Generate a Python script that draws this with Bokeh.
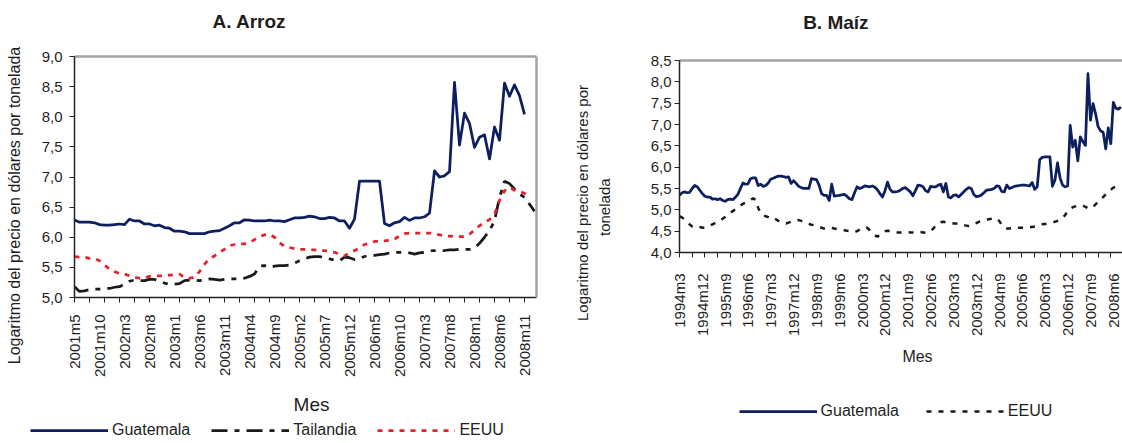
import math
import numpy as np
from bokeh.plotting import figure
from bokeh.models import (Range1d, FixedTicker, LinearAxis, Legend, LegendItem, Label,
                          CustomJSTickFormatter)
from bokeh.layouts import row, column
from bokeh.embed import file_html
from bokeh.resources import INLINE

FONT = "Liberation Sans"
TXT = "#1e1e1e"
NAVY = "#0d1f5e"
RED = "#e8202a"
BLACK = "#1a1a1a"
BORDER = "#a3a3a3"
AXIS = "#222222"

# ---------------- Panel A: Arroz ----------------
title_a = "A.  Arroz"
ytitle_a = "Logaritmo del precio en dólares por tonelada"
xtitle_a = "Mes"
series_a = ["Guatemala", "Tailandia", "EEUU"]
tick_labels_a = ["2001m5", "2001m10", "2002m3", "2002m8", "2003m1", "2003m6", "2003m11",
                 "2004m4", "2004m9", "2005m2", "2005m7", "2005m12", "2006m5", "2006m10",
                 "2007m3", "2007m8", "2008m1", "2008m6", "2008m11"]
yticks_a = [5.0, 5.5, 6.0, 6.5, 7.0, 7.5, 8.0, 8.5, 9.0]

guatemala_a = [6.285, 6.25, 6.25, 6.25, 6.24, 6.21, 6.20, 6.20, 6.21, 6.22,
               6.21, 6.30, 6.27, 6.27, 6.22, 6.22, 6.19, 6.20, 6.16, 6.15,
               6.10, 6.10, 6.09, 6.06, 6.06, 6.06, 6.06, 6.09, 6.10, 6.11,
               6.15, 6.19, 6.24, 6.24, 6.29, 6.285, 6.27, 6.27, 6.27, 6.285,
               6.27, 6.27, 6.26, 6.29, 6.32, 6.32, 6.33, 6.35, 6.34, 6.31,
               6.31, 6.33, 6.32, 6.27, 6.27, 6.15, 6.30, 6.93, 6.93, 6.93,
               6.93, 6.93, 6.23, 6.19, 6.24, 6.26, 6.33, 6.28, 6.32, 6.32,
               6.34, 6.40, 7.10, 7.00, 7.02, 7.09, 8.57, 7.53, 8.06, 7.89,
               7.49, 7.66, 7.70, 7.30, 7.83, 7.61, 8.56, 8.34, 8.53, 8.35, 8.04]

tailandia_a = [5.18, 5.10, 5.11, 5.13, 5.14, 5.14, 5.15, 5.15, 5.17, 5.18,
               5.22, 5.27, 5.29, 5.28, 5.28, 5.30, 5.30, 5.27, 5.24, 5.22,
               5.22, 5.23, 5.28, 5.29, 5.29, 5.28, 5.29, 5.31, 5.30, 5.29,
               5.30, 5.31, 5.31, 5.31, 5.32, 5.35, 5.39, 5.52, 5.53, 5.50,
               5.52, 5.53, 5.53, 5.54, 5.57, 5.61, 5.64, 5.67, 5.68, 5.68,
               5.66, 5.64, 5.62, 5.61, 5.67, 5.66, 5.63, 5.65, 5.68, 5.70,
               5.70, 5.71, 5.72, 5.74, 5.75, 5.75, 5.75, 5.74, 5.72, 5.74,
               5.75, 5.77, 5.78, 5.78, 5.78, 5.79, 5.79, 5.80, 5.80, 5.80,
               5.82, 5.90, 6.00, 6.11, 6.27, 6.66, 6.93, 6.89, 6.80, 6.72,
               6.66, 6.55, 6.43]

eeuu_a = [5.68, 5.67, 5.67, 5.65, 5.65, 5.61, 5.54, 5.47, 5.43, 5.40,
          5.39, 5.36, 5.33, 5.32, 5.33, 5.35, 5.36, 5.36, 5.36, 5.37,
          5.38, 5.39, 5.33, 5.32, 5.33, 5.43, 5.55, 5.65, 5.69, 5.75,
          5.80, 5.86, 5.88, 5.89, 5.89, 5.91, 5.96, 6.01, 6.04, 6.05,
          6.00, 5.91, 5.85, 5.83, 5.81, 5.80, 5.80, 5.79, 5.79, 5.78,
          5.78, 5.76, 5.75, 5.72, 5.69, 5.74, 5.78, 5.82, 5.88, 5.90,
          5.93, 5.93, 5.94, 5.95, 5.97, 6.02, 6.06, 6.07, 6.07, 6.07,
          6.07, 6.07, 6.06, 6.04, 6.02, 6.02, 6.01, 6.01, 6.01, 6.05,
          6.12, 6.19, 6.25, 6.29, 6.38, 6.61, 6.77, 6.83, 6.78, 6.76,
          6.73, 6.67]

# ---------------- Panel B: Maiz ----------------
title_b = "B.  Maíz"
ytitle_b1 = "Logaritmo del precio en dólares por"
ytitle_b2 = "tonelada"
xtitle_b = "Mes"
series_b = ["Guatemala", "EEUU"]
tick_labels_b = ["1994m3", "1994m12", "1995m9", "1996m6", "1997m3", "1997m12", "1998m9",
                 "1999m6", "2000m3", "2000m12", "2001m9", "2002m6", "2003m3", "2003m12",
                 "2004m9", "2005m6", "2006m3", "2006m12", "2007m9", "2008m6"]
yticks_b = [4.0, 4.5, 5.0, 5.5, 6.0, 6.5, 7.0, 7.5, 8.0, 8.5]

guatemala_b = [5.34, 5.40, 5.42, 5.40, 5.41, 5.50, 5.57, 5.54, 5.46, 5.38,
               5.32, 5.30, 5.30, 5.25, 5.26, 5.24, 5.26, 5.22, 5.20, 5.24,
               5.25, 5.24, 5.29, 5.36, 5.50, 5.63, 5.60, 5.61, 5.73, 5.75,
               5.75, 5.57, 5.60, 5.55, 5.57, 5.63, 5.72, 5.74, 5.77, 5.79,
               5.79, 5.78, 5.76, 5.77, 5.62, 5.68, 5.62, 5.55, 5.52, 5.50,
               5.51, 5.50, 5.73, 5.72, 5.71, 5.58, 5.38, 5.34, 5.34, 5.22,
               5.60, 5.32, 5.33, 5.34, 5.35, 5.36, 5.32, 5.26, 5.24, 5.40,
               5.54, 5.50, 5.52, 5.56, 5.55, 5.54, 5.56, 5.53, 5.47, 5.38,
               5.30, 5.45, 5.65, 5.48, 5.42, 5.42, 5.43, 5.46, 5.50, 5.52,
               5.47, 5.42, 5.33, 5.45, 5.58, 5.57, 5.54, 5.45, 5.42, 5.55,
               5.54, 5.54, 5.58, 5.60, 5.42, 5.62, 5.30, 5.28, 5.34, 5.35,
               5.30, 5.36, 5.42, 5.48, 5.52, 5.50, 5.36, 5.31, 5.32, 5.35,
               5.40, 5.46, 5.47, 5.48, 5.50, 5.56, 5.55, 5.43, 5.42, 5.58,
               5.50, 5.52, 5.55, 5.56, 5.57, 5.58, 5.58, 5.57, 5.56, 5.64,
               5.48, 5.54, 6.18, 6.23, 6.24, 6.24, 6.24, 5.55, 5.70, 6.10,
               5.75, 5.58, 5.54, 5.56, 6.98, 6.47, 6.63, 6.15, 6.71, 6.60,
               6.51, 8.19, 7.10, 7.49, 7.25, 6.95, 6.85, 6.82, 6.43, 6.92,
               6.55, 7.52, 7.38, 7.36, 7.41]

eeuu_b = [4.85, 4.82, 4.78, 4.72, 4.66, 4.61, 4.60, 4.62, 4.60, 4.58,
          4.58, 4.60, 4.63, 4.66, 4.69, 4.72, 4.75, 4.79, 4.83, 4.88,
          4.93, 4.97, 5.01, 5.05, 5.10, 5.14, 5.17, 5.20, 5.23, 5.27,
          5.24, 5.05, 4.92, 4.87, 4.85, 4.83, 4.80, 4.82, 4.78, 4.74,
          4.71, 4.69, 4.68, 4.70, 4.72, 4.74, 4.75, 4.76, 4.74, 4.71,
          4.69, 4.67, 4.65, 4.64, 4.62, 4.60, 4.58, 4.56, 4.57, 4.58,
          4.58, 4.56, 4.55, 4.54, 4.53, 4.52, 4.51, 4.50, 4.48, 4.48,
          4.50, 4.54, 4.58, 4.59, 4.58, 4.52, 4.45, 4.40, 4.37, 4.42,
          4.47, 4.50, 4.51, 4.50, 4.49, 4.48, 4.47, 4.47, 4.47, 4.48,
          4.48, 4.47, 4.47, 4.47, 4.48, 4.48, 4.47, 4.46, 4.48, 4.50,
          4.56, 4.63, 4.68, 4.71, 4.72, 4.71, 4.70, 4.69, 4.68, 4.68,
          4.67, 4.66, 4.64, 4.63, 4.62, 4.63, 4.66, 4.69, 4.72, 4.74,
          4.76, 4.77, 4.78, 4.79, 4.80, 4.80, 4.74, 4.65, 4.58, 4.56,
          4.56, 4.57, 4.58, 4.58, 4.58, 4.58, 4.59, 4.59, 4.60, 4.60,
          4.61, 4.62, 4.64, 4.66, 4.67, 4.68, 4.70, 4.71, 4.72, 4.74,
          4.76, 4.80, 4.88, 4.97, 5.03, 5.06, 5.08, 5.10, 5.11, 5.10,
          5.07, 5.04, 5.03, 5.07, 5.13, 5.19, 5.25, 5.30, 5.36, 5.42,
          5.47, 5.52, 5.54, 5.57, 5.61]

STYLE = {
    "Guatemala": dict(line_color=NAVY, line_width=2.75, line_join="round"),
    "Tailandia": dict(line_color=BLACK, line_width=2.75, line_dash="16 7 5 7"),
    "EEUU_A": dict(line_color=RED, line_width=2.75, line_dash="5 6"),
    "EEUU_B": dict(line_color=BLACK, line_width=2.5, line_dash="5 7"),
}


def months_from(y, m, n):
    return [f"{y + (m - 1 + k) // 12}m{(m - 1 + k) % 12 + 1}" for k in range(n)]


months_a = months_from(2001, 5, 93)
months_b = months_from(1994, 3, 175)


def no_align(f):
    if "frame_align" in f.properties():
        f.frame_align = False
    return f


def make_fig(frame_w, frame_h, xr, yr, mb):
    p = figure(frame_width=frame_w, frame_height=frame_h, x_range=Range1d(*xr), y_range=Range1d(*yr),
               min_border_left=mb[0], min_border_right=mb[1], min_border_top=mb[2], min_border_bottom=mb[3],
               output_backend="svg", toolbar_location=None, title=None,
               background_fill_color="white", border_fill_color="white")
    p.outline_line_color = None
    p.xgrid.visible = False
    p.ygrid.visible = False
    return no_align(p)


def blank_fig(w, h):
    """Axis-less strip whose data coordinates equal its pixel coordinates (y downwards)."""
    f = figure(width=w, height=h, x_range=Range1d(0, w), y_range=Range1d(h, 0),
               min_border_left=0, min_border_right=0, min_border_top=0, min_border_bottom=0,
               x_axis_type=None, y_axis_type=None, output_backend="svg", toolbar_location=None,
               title=None, background_fill_color="white", border_fill_color="white")
    f.outline_line_color = None
    return no_align(f)


def put_text(f, x, y, text, size, bold=False):
    f.add_layout(Label(x=x, y=y, text=text, text_align="center", text_baseline="alphabetic",
                       text_font=FONT, text_font_size=size,
                       text_font_style="bold" if bold else "normal", text_color=TXT))


def text_axis(pos, text, size, standoff, vertical=False, line_color=None, line_width=1.0):
    ax = LinearAxis(ticker=FixedTicker(ticks=[pos] if pos is not None else []),
                    formatter=CustomJSTickFormatter(args=dict(t=text), code="return t;"),
                    major_tick_line_color=None, minor_tick_line_color=None,
                    major_tick_out=0, major_tick_in=0, minor_tick_out=0, minor_tick_in=0,
                    major_label_standoff=standoff, major_label_text_font=FONT,
                    major_label_text_font_size=size, major_label_text_color=TXT,
                    axis_line_color=line_color, axis_line_width=line_width)
    if vertical:
        ax.major_label_orientation = "vertical"
    return ax


def style_axes(p, months, tick_labels, minor_step, yticks, xstand, ystand):
    xt = [months.index(t) for t in tick_labels]
    xa = p.xaxis[0]
    xa.ticker = FixedTicker(ticks=xt, minor_ticks=list(range(0, len(months), minor_step)))
    xa.major_label_overrides = {i: t for i, t in zip(xt, tick_labels)}
    xa.major_label_orientation = math.pi / 2
    xa.major_tick_line_color = None
    xa.major_tick_out = 0
    xa.major_tick_in = 0
    xa.minor_tick_out = 5
    xa.minor_tick_in = 0
    xa.minor_tick_line_color = AXIS
    xa.axis_line_color = AXIS
    xa.axis_line_width = 1.5
    xa.major_label_standoff = xstand
    xa.major_label_text_font = FONT
    xa.major_label_text_font_size = "15px"
    xa.major_label_text_color = TXT

    ya = p.yaxis[0]
    ya.ticker = FixedTicker(ticks=yticks)
    ya.formatter = CustomJSTickFormatter(code="return tick.toFixed(1).replace('.', ',');")
    ya.major_tick_out = 5
    ya.major_tick_in = 0
    ya.major_tick_line_color = AXIS
    ya.minor_tick_line_color = None
    ya.axis_line_color = AXIS
    ya.axis_line_width = 1.5
    ya.major_label_standoff = ystand
    ya.major_label_text_font = FONT
    ya.major_label_text_font_size = "15px"
    ya.major_label_text_color = TXT


def legend_strip(f, names, styles, x, y, spacing):
    items = []
    for name, st in zip(names, styles):
        # swatch-only renderer (a single missing value: nothing is drawn in the strip)
        r = f.line(x=np.array([np.nan]), y=np.array([np.nan]), **st)
        items.append(LegendItem(label=name, renderers=[r]))
    f.add_layout(Legend(items=items, location=(x, y), orientation="horizontal", glyph_width=78,
                        glyph_height=20, label_height=20, label_standoff=4, spacing=spacing,
                        padding=0, margin=0, border_line_color=None, background_fill_alpha=0,
                        label_text_font=FONT, label_text_font_size="16px", label_text_color=TXT))


# ================= Column A (x 0..560) =================
head_a = blank_fig(560, 40)
put_text(head_a, 251.5, 21, title_a, "19px", bold=True)

# chart: page y 40..384, frame x 74..536, y 56..297 (5 px per month)
pa = make_fig(462, 241, (0, 92.4), (5, 9), (74, 24, 16, 87))
style_axes(pa, months_a, tick_labels_a, 3, yticks_a, 12, 7)
pa.add_layout(text_axis(None, "", "1px", 0, line_color=BORDER, line_width=2.5), "above")
pa.add_layout(text_axis(None, "", "1px", 0, line_color=BORDER, line_width=2.5), "right")
pa.add_layout(text_axis(5 + (297 - 205) * 4 / 241, ytitle_a, "16px", 16, vertical=True), "left")
pa.line(list(range(len(guatemala_a))), guatemala_a, **STYLE["Guatemala"])
pa.line(list(range(len(tailandia_a))), tailandia_a, **STYLE["Tailandia"])
pa.line(list(range(len(eeuu_a))), eeuu_a, **STYLE["EEUU_A"])

# strip under chart: page y 384..440
foot_a = blank_fig(560, 56)
put_text(foot_a, 311, 404 - 384, xtitle_a, "19px")
legend_strip(foot_a, series_a, [STYLE["Guatemala"], STYLE["Tailandia"], STYLE["EEUU_A"]], 30, 0, 21)

# ================= Column B (x 560..1122) =================
head_b = blank_fig(562, 40)
put_text(head_b, 838 - 560, 21.5, title_b, "19px", bold=True)

# chart: page y 40..343, frame x 679..1122, y 60..252 (2.537 px per month)
pb = make_fig(443, 192, (0, 443 / 2.537), (4, 8.5), (119, 0, 20, 91))
style_axes(pb, months_b, tick_labels_b, 5, yticks_b, 16, 3)
pb.add_layout(text_axis(None, "", "1px", 0, line_color=BORDER, line_width=2.5), "above")
pb.add_layout(text_axis(4 + (252 - 206.7) * 4.5 / 192, ytitle_b2, "15px", 34, vertical=True), "left")
pb.add_layout(text_axis(4 + (252 - 202.5) * 4.5 / 192, ytitle_b1, "15px", 3, vertical=True), "left")
pb.line(list(range(len(guatemala_b))), guatemala_b, **STYLE["Guatemala"])
pb.line(list(range(len(eeuu_b))), eeuu_b, **STYLE["EEUU_B"])

# strip under chart: page y 343..440
foot_b = blank_fig(562, 97)
put_text(foot_b, 917 - 560, 356 - 343, xtitle_b, "16px")
legend_strip(foot_b, series_b, [STYLE["Guatemala"], STYLE["EEUU_B"]], 738.6 - 560, 19, 27)

layout = row(column(head_a, pa, foot_a), column(head_b, pb, foot_b))
open("out.html", "w").write(file_html(layout, INLINE))
